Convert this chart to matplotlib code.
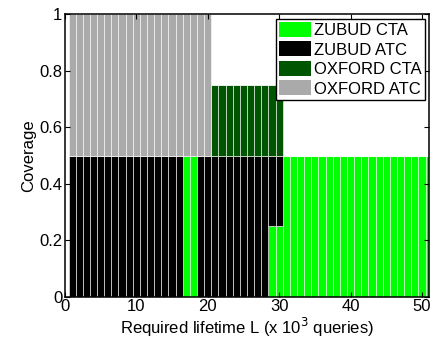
import numpy as np
import matplotlib.pyplot as plt
from matplotlib.patches import Patch

plt.rcParams['font.family'] = ['Liberation Sans', 'DejaVu Sans']

# required lifetime (x 10^3 queries), one bar per value
lifetime = list(range(1, 52))

zubud_cta = [0, 0, 0, 0, 0, 0, 0, 0, 0, 0, 0, 0, 0, 0, 0, 0,
             0.5, 0.5,
             0, 0, 0, 0, 0, 0, 0, 0, 0, 0,
             0.25, 0.25,
             0.5, 0.5, 0.5, 0.5, 0.5, 0.5, 0.5, 0.5, 0.5, 0.5, 0.5,
             0.5, 0.5, 0.5, 0.5, 0.5, 0.5, 0.5, 0.5, 0.5, 0.5]
zubud_atc = [0.5, 0.5, 0.5, 0.5, 0.5, 0.5, 0.5, 0.5, 0.5, 0.5, 0.5, 0.5, 0.5, 0.5, 0.5, 0.5,
             0, 0,
             0.5, 0.5, 0.5, 0.5, 0.5, 0.5, 0.5, 0.5, 0.5, 0.5,
             0.25, 0.25,
             0, 0, 0, 0, 0, 0, 0, 0, 0, 0, 0,
             0, 0, 0, 0, 0, 0, 0, 0, 0, 0]
oxford_cta = [0, 0, 0, 0, 0, 0, 0, 0, 0, 0, 0, 0, 0, 0, 0, 0, 0, 0, 0, 0,
              0.25, 0.25, 0.25, 0.25, 0.25, 0.25, 0.25, 0.25, 0.25, 0.25,
              0, 0, 0, 0, 0, 0, 0, 0, 0, 0, 0,
              0, 0, 0, 0, 0, 0, 0, 0, 0, 0]
oxford_atc = [0.5, 0.5, 0.5, 0.5, 0.5, 0.5, 0.5, 0.5, 0.5, 0.5, 0.5, 0.5, 0.5, 0.5, 0.5, 0.5, 0.5, 0.5, 0.5, 0.5,
              0, 0, 0, 0, 0, 0, 0, 0, 0, 0,
              0, 0, 0, 0, 0, 0, 0, 0, 0, 0, 0,
              0, 0, 0, 0, 0, 0, 0, 0, 0, 0]

series = [('ZUBUD CTA', zubud_cta, '#00ff00'),
          ('ZUBUD ATC', zubud_atc, '#000000'),
          ('OXFORD CTA', oxford_cta, '#005500'),
          ('OXFORD ATC', oxford_atc, '#aaaaaa')]

fig = plt.figure(figsize=(4.3, 3.44), dpi=100)
ax = fig.add_axes([0.151, 0.1375, 0.847, 0.8205])

bottom = np.zeros(len(lifetime))
handles = []
for name, vals, col in series:
    vals = np.array(vals, dtype=float)
    ax.bar(lifetime, vals, width=1.0, bottom=bottom, color=col,
           edgecolor='white', linewidth=0.4)
    bottom += vals
    handles.append(Patch(facecolor=col, edgecolor='none', label=name))

ax.set_xlim(0, 51)
ax.set_ylim(0, 1)
ax.set_xticks([0, 10, 20, 30, 40, 50])
ax.set_yticks([0, 0.2, 0.4, 0.6, 0.8, 1])
ax.set_yticklabels(['0', '0.2', '0.4', '0.6', '0.8', '1'])
ax.tick_params(direction='in', length=3.5, width=0.8, labelsize=12,
               top=True, right=True, pad=2)
for s in ax.spines.values():
    s.set_linewidth(1.1)

ax.set_xlabel('Required lifetime L (x 10$^3$ queries)', fontsize=12, labelpad=1)
ax.set_ylabel('Coverage', fontsize=12, labelpad=2)

leg = ax.legend(handles=handles, loc='upper right', fontsize=12,
                fancybox=False, framealpha=1, edgecolor='black',
                handlelength=1.9, handleheight=1.0, handletextpad=0.2,
                labelspacing=0.2, borderpad=0.2, borderaxespad=0.25)
leg.get_frame().set_linewidth(1.0)

fig.savefig('out.png', dpi=100)
